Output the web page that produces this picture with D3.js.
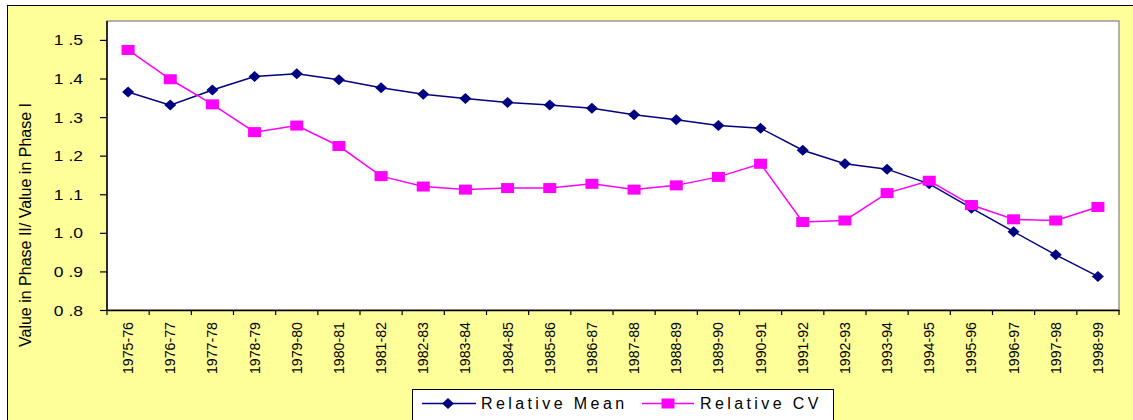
<!DOCTYPE html>
<html>
<head>
<meta charset="utf-8">
<script src="https://cdn.jsdelivr.net/npm/d3@7"></script>
<style>
  html, body { margin: 0; padding: 0; background: #ffffff; }
  svg { display: block; font-family: "Liberation Sans", Arial, sans-serif; }
</style>
</head>
<body>
<svg id="chart" width="1133" height="420"></svg>
<script>
const categories = ["1975-76","1976-77","1977-78","1978-79","1979-80","1980-81","1981-82","1982-83",
  "1983-84","1984-85","1985-86","1986-87","1987-88","1988-89","1989-90","1990-91","1991-92",
  "1992-93","1993-94","1994-95","1995-96","1996-97","1997-98","1998-99"];
const relativeMean = [1.365,1.331,1.370,1.405,1.412,1.397,1.376,1.359,1.348,1.338,1.331,1.323,
  1.306,1.293,1.278,1.271,1.214,1.179,1.165,1.127,1.064,1.003,0.943,0.887];
const relativeCV = [1.474,1.398,1.333,1.261,1.278,1.225,1.147,1.120,1.112,1.116,1.116,1.127,
  1.112,1.123,1.145,1.179,1.028,1.032,1.103,1.135,1.072,1.035,1.032,1.067];
const yTicks = [0.8,0.9,1.0,1.1,1.2,1.3,1.4,1.5];
const seriesNames = ["Relative Mean","Relative CV"];
const yTitle = "Value in Phase II/ Value in Phase I";

const svg = d3.select("#chart");
const L = 107, R = 1119, T = 21, B = 310;
const FONT = "Liberation Sans, Arial, sans-serif";

// outer chart area
svg.append("rect").attr("x", 7.5).attr("y", 5.5).attr("width", 1140).attr("height", 430)
  .attr("fill", "#FFFF99").attr("stroke", "#000").attr("stroke-width", 1);

// plot area
svg.append("rect").attr("x", L).attr("y", T).attr("width", R - L).attr("height", B - T)
  .attr("fill", "#fff").attr("stroke", "#9a9a9a").attr("stroke-width", 1.5);

const x = d3.scaleBand().domain(categories).range([L, R]);
const y = d3.scaleLinear().domain([0.8, 1.549]).range([B, T]);

// y axis
const SX = 1.25;
const yAxis = d3.axisLeft(y).tickValues(yTicks).tickSize(7).tickPadding(17)
  .tickFormat(d => d3.format(".1f")(d).replace(".", " ."));
const gy = svg.append("g").attr("transform", `translate(${L},0)`).call(yAxis);
gy.attr("font-size", null).attr("font-family", null);
gy.select(".domain").attr("stroke", "#000").attr("stroke-width", 1.5).attr("d", `M0,${T}V${B}`);
gy.selectAll(".tick line").attr("stroke", "#000").attr("stroke-width", 1.2);
gy.selectAll(".tick text").attr("font-size", 14).attr("fill", "#000")
  .attr("font-family", FONT).attr("dy", "0.36em")
  .attr("x", -24 / SX).attr("transform", `scale(${SX},1)`);

// x axis
const gx = svg.append("g").attr("transform", `translate(0,${B})`)
  .call(d3.axisBottom(x).tickSize(0).tickSizeOuter(0));
gx.attr("font-size", null).attr("font-family", null);
gx.select(".domain").attr("stroke", "#000").attr("stroke-width", 1.5);
gx.selectAll(".tick line").remove();
// boundary ticks
const bounds = categories.map(c => x(c)).concat([R]);
gx.selectAll(".btick").data(bounds).join("line").attr("class", "btick")
  .attr("x1", d => d).attr("x2", d => d).attr("y1", 0).attr("y2", 5)
  .attr("stroke", "#000").attr("stroke-width", 1.2);
gx.selectAll(".tick text")
  .attr("font-size", 14.2).attr("fill", "#000")
  .attr("font-family", FONT)
  .attr("text-anchor", "end").attr("dy", null).attr("y", 0)
  .attr("transform", "translate(5,12) rotate(-90)");

// y title
svg.append("text").attr("transform", "translate(31,225) rotate(-90)")
  .attr("text-anchor", "middle").attr("font-size", 16).attr("font-family", FONT)
  .attr("fill", "#000").text(yTitle);

const cx = c => x(c) + x.bandwidth() / 2;
const line = d3.line().x((d, i) => cx(categories[i])).y(d => y(d));

// Mean
svg.append("path").datum(relativeMean).attr("d", line).attr("fill", "none")
  .attr("stroke", "#000080").attr("stroke-width", 1.5);
// CV
svg.append("path").datum(relativeCV).attr("d", line).attr("fill", "none")
  .attr("stroke", "#FF00FF").attr("stroke-width", 1.5);

const diamond = "M0,-5.5L6,0L0,5.5L-6,0Z";
svg.selectAll(".mk-mean").data(relativeMean).join("path").attr("class", "mk-mean")
  .attr("transform", (d, i) => `translate(${cx(categories[i])},${y(d)})`)
  .attr("d", diamond).attr("fill", "#000080");
svg.selectAll(".mk-cv").data(relativeCV).join("rect").attr("class", "mk-cv")
  .attr("x", (d, i) => cx(categories[i]) - 6.5).attr("y", d => y(d) - 5)
  .attr("width", 13).attr("height", 10).attr("fill", "#FF00FF");

// legend
const lg = svg.append("g");
lg.append("rect").attr("x", 412.5).attr("y", 389.5).attr("width", 421).attr("height", 40)
  .attr("fill", "#fff").attr("stroke", "#000").attr("stroke-width", 1);
lg.append("line").attr("x1", 422).attr("x2", 476).attr("y1", 403.5).attr("y2", 403.5)
  .attr("stroke", "#000080").attr("stroke-width", 1.5);
lg.append("path").attr("transform", "translate(448,403.5)").attr("d", diamond).attr("fill", "#000080");
lg.append("text").attr("x", 481).attr("y", 409).attr("font-size", 16).attr("font-family", FONT)
  .attr("letter-spacing", 3.4).attr("fill", "#000").text(seriesNames[0]);
lg.append("line").attr("x1", 642).attr("x2", 694).attr("y1", 403.5).attr("y2", 403.5)
  .attr("stroke", "#FF00FF").attr("stroke-width", 1.5);
lg.append("rect").attr("x", 661.5).attr("y", 398.5).attr("width", 13).attr("height", 10).attr("fill", "#FF00FF");
lg.append("text").attr("x", 700).attr("y", 409).attr("font-size", 16).attr("font-family", FONT)
  .attr("letter-spacing", 3.4).attr("fill", "#000").text(seriesNames[1]);
</script>
</body>
</html>
